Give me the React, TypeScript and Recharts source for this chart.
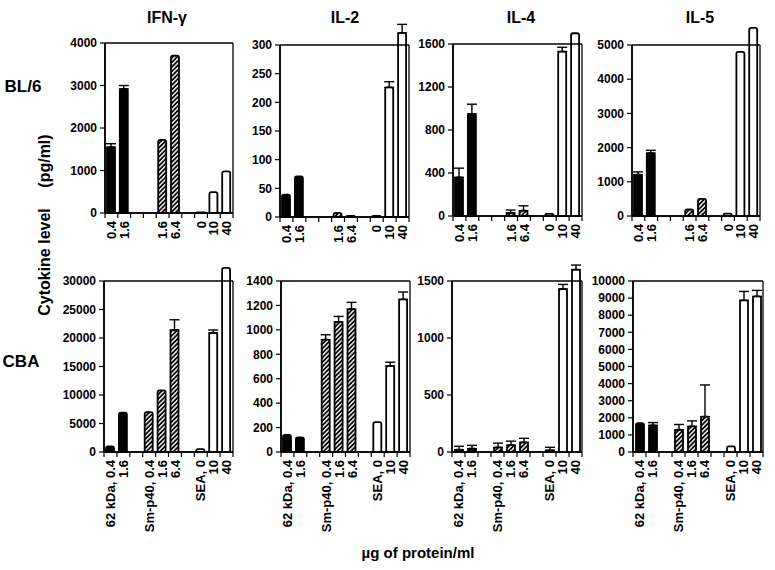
import React from "react";
import { BarChart, Bar, XAxis, YAxis, ErrorBar, Cell, ReferenceLine } from "recharts";

// slot layout shared by every panel: 62 kDa (2 doses), gap, Sm-p40 (3 doses), gap, SEA (3 doses)
const slotGroups = ["kda", "kda", "", "sm", "sm", "sm", "", "sea", "sea", "sea"];
const topLabels = ["0.4", "1.6", "", "", "1.6", "6.4", "", "0", "10", "40"];
const bottomLabels = ["62 kDa, 0.4", "1.6", "", "Sm-p40, 0.4", "1.6", "6.4", "", "SEA, 0", "10", "40"];

// BL/6 mice
const bl6Ifng = [1550, 2920, null, null, 1720, 3700, null, 15, 490, 980];
const bl6IfngErr = [80, 80, null, null, null, null, null, null, null, null];
const bl6Il2 = [39, 71, null, null, 7, 2, null, 2, 226, 321];
const bl6Il2Err = [null, null, null, null, null, null, null, null, 10, 15];
const bl6Il4 = [360, 950, null, null, 30, 50, null, 20, 1530, 1700];
const bl6Il4Err = [85, 90, null, null, 25, 45, null, null, 40, null];
const bl6Il5 = [1210, 1840, null, null, 190, 500, null, 70, 4800, 5500];
const bl6Il5Err = [80, 80, null, null, null, null, null, null, null, null];

// CBA mice
const cbaIfng = [1000, 6900, null, 7000, 10800, 21400, null, 500, 20900, 32300];
const cbaIfngErr = [null, null, null, null, null, 1800, null, null, 500, null];
const cbaIl2 = [140, 120, null, 920, 1065, 1170, null, 245, 705, 1250];
const cbaIl2Err = [null, null, null, 40, 45, 55, null, null, 30, 60];
const cbaIl4 = [20, 30, null, 40, 60, 85, null, 15, 1430, 1600];
const cbaIl4Err = [30, 28, null, 38, 35, 35, null, 26, 40, 40];
const cbaIl5 = [1680, 1560, null, 1300, 1500, 2070, null, 330, 8870, 9100];
const cbaIl5Err = [null, 160, null, 310, 320, 1850, null, null, 520, 350];

// y ticks
const bl6IfngTicks = [0, 1000, 2000, 3000, 4000];
const bl6Il2Ticks = [0, 50, 100, 150, 200, 250, 300];
const bl6Il4Ticks = [0, 400, 800, 1200, 1600];
const bl6Il5Ticks = [0, 1000, 2000, 3000, 4000, 5000];
const cbaIfngTicks = [0, 5000, 10000, 15000, 20000, 25000, 30000];
const cbaIl2Ticks = [0, 200, 400, 600, 800, 1000, 1200, 1400];
const cbaIl4Ticks = [0, 500, 1000, 1500];
const cbaIl5Ticks = [0, 1000, 2000, 3000, 4000, 5000, 6000, 7000, 8000, 9000, 10000];

// tick marks sit on the slot boundaries
const slotTicks = [0, 1, 2, 3, 4, 5, 6, 7, 8, 9, 10];

const FONT = "'Liberation Sans', Arial, Helvetica, sans-serif";

const fillFor = (g: string) => (g === "kda" ? "#000" : g === "sm" ? "url(#hatch)" : "#fff");

// label of slot i drawn half a slot right of boundary tick i
function EdgeTick(props: any) {
  const { x, y, payload, labels, half } = props;
  const text = labels[payload.value] || "";
  if (!text) return null;
  const cx = x + half;
  return (
    <text
      x={cx}
      y={y}
      transform={`rotate(-90 ${cx} ${y})`}
      textAnchor="end"
      dy="0.36em"
      fontFamily={FONT}
      fontWeight="bold"
      fontSize={13}
      fill="#000"
    >
      {text}
    </text>
  );
}

type PanelProps = {
  left: number;
  top: number;
  width: number;
  height: number;
  values: (number | null)[];
  errors: (number | null)[];
  ticks: number[];
  labels: string[];
};

function Panel({ left, top, width, height, values, errors, ticks, labels }: PanelProps) {
  const data = values.map((v, i) => ({
    slot: i,
    edge: i,
    value: v,
    err: errors[i] ? [0, errors[i]] : undefined,
  }));
  const yMax = ticks[ticks.length - 1];
  const mTop = 30;
  const yW = 50;
  const mRight = 10;
  const labH = 95;
  return (
    <div style={{ position: "absolute", left: left - yW, top: top - mTop }}>
      <BarChart
        width={width + yW + mRight}
        height={height + mTop + labH}
        data={data}
        margin={{ top: mTop, right: mRight, left: 0, bottom: 0 }}
        barSize={8}
      >
        <XAxis xAxisId="c" dataKey="slot" hide height={0} />
        <XAxis
          xAxisId="t"
          dataKey="edge"
          type="number"
          domain={[0, 10]}
          allowDataOverflow
          ticks={slotTicks}
          interval={0}
          tickSize={5}
          tickMargin={3}
          height={labH}
          axisLine={{ stroke: "#000", strokeWidth: 1.5 }}
          tickLine={{ stroke: "#000", strokeWidth: 1.2 }}
          tick={<EdgeTick labels={labels} half={width / 20} />}
        />
        <YAxis
          type="number"
          domain={[0, yMax]}
          ticks={ticks}
          interval={0}
          allowDataOverflow
          width={yW}
          tickSize={5}
          tickMargin={3}
          axisLine={{ stroke: "#000", strokeWidth: 1.5 }}
          tickLine={{ stroke: "#000", strokeWidth: 1.2 }}
          tick={{ fill: "#000", fontFamily: FONT, fontWeight: "bold", fontSize: 12 }}
        />
        <ReferenceLine y={yMax} xAxisId="t" stroke="#000" strokeWidth={1.3} />
        <ReferenceLine y={0} xAxisId="t" stroke="#000" strokeWidth={1.5} />
        <ReferenceLine x={0} xAxisId="t" stroke="#000" strokeWidth={1.5} />
        <ReferenceLine x={10} xAxisId="t" stroke="#000" strokeWidth={1.3} />
        <Bar
          dataKey="value"
          xAxisId="c"
          isAnimationActive={false}
          stroke="#000"
          strokeWidth={1.8}
          radius={[2, 2, 0, 0]}
        >
          {data.map((d, i) => (
            <Cell key={i} fill={fillFor(slotGroups[i])} />
          ))}
          <ErrorBar dataKey="err" width={5} stroke="#000" strokeWidth={1.4} direction="y" />
        </Bar>
      </BarChart>
    </div>
  );
}

export default function App() {
  return (
    <div
      style={{
        position: "absolute",
        left: 0,
        top: 0,
        width: 775,
        height: 570,
        background: "#fff",
        overflow: "hidden",
      }}
    >
      <style>{".recharts-surface, .recharts-surface g { clip-path: none !important; overflow: visible; }"}</style>
      <svg width={0} height={0} style={{ position: "absolute" }}>
        <defs>
          <pattern id="hatch" patternUnits="userSpaceOnUse" width={3.2} height={3.2} patternTransform="rotate(45)">
            <rect width={3.2} height={3.2} fill="#000" />
            <rect width={1.4} height={3.2} fill="#fff" />
          </pattern>
        </defs>
      </svg>

      <Panel left={105} top={43} width={128} height={170} values={bl6Ifng} errors={bl6IfngErr} ticks={bl6IfngTicks} labels={topLabels} />
      <Panel left={280} top={45} width={129} height={172} values={bl6Il2} errors={bl6Il2Err} ticks={bl6Il2Ticks} labels={topLabels} />
      <Panel left={453} top={44} width={129} height={172} values={bl6Il4} errors={bl6Il4Err} ticks={bl6Il4Ticks} labels={topLabels} />
      <Panel left={632} top={45} width={128} height={171} values={bl6Il5} errors={bl6Il5Err} ticks={bl6Il5Ticks} labels={topLabels} />

      <Panel left={104} top={281} width={129} height={171} values={cbaIfng} errors={cbaIfngErr} ticks={cbaIfngTicks} labels={bottomLabels} />
      <Panel left={281} top={281} width={129} height={171} values={cbaIl2} errors={cbaIl2Err} ticks={cbaIl2Ticks} labels={bottomLabels} />
      <Panel left={452} top={281} width={130} height={171} values={cbaIl4} errors={cbaIl4Err} ticks={cbaIl4Ticks} labels={bottomLabels} />
      <Panel left={633} top={281} width={130} height={171} values={cbaIl5} errors={cbaIl5Err} ticks={cbaIl5Ticks} labels={bottomLabels} />

      <svg width={775} height={570} style={{ position: "absolute", left: 0, top: 0, pointerEvents: "none" }}>
        <g fontFamily={FONT} fontWeight="bold" fill="#000" textAnchor="middle">
          <text x={167} y={23} fontSize={16}>IFN-γ</text>
          <text x={345} y={23} fontSize={16}>IL-2</text>
          <text x={521} y={23} fontSize={16}>IL-4</text>
          <text x={700} y={23} fontSize={16}>IL-5</text>
          <text x={23} y={92} fontSize={17}>BL/6</text>
          <text x={21} y={367} fontSize={17}>CBA</text>
          <text x={44} y={262} fontSize={16} transform="rotate(-90 44 262)" dy="0.35em">Cytokine level</text>
          <text x={44} y={161} fontSize={16} transform="rotate(-90 44 161)" dy="0.35em">(pg/ml)</text>
          <text x={418} y={558} fontSize={15}>µg of protein/ml</text>
        </g>
      </svg>
    </div>
  );
}
